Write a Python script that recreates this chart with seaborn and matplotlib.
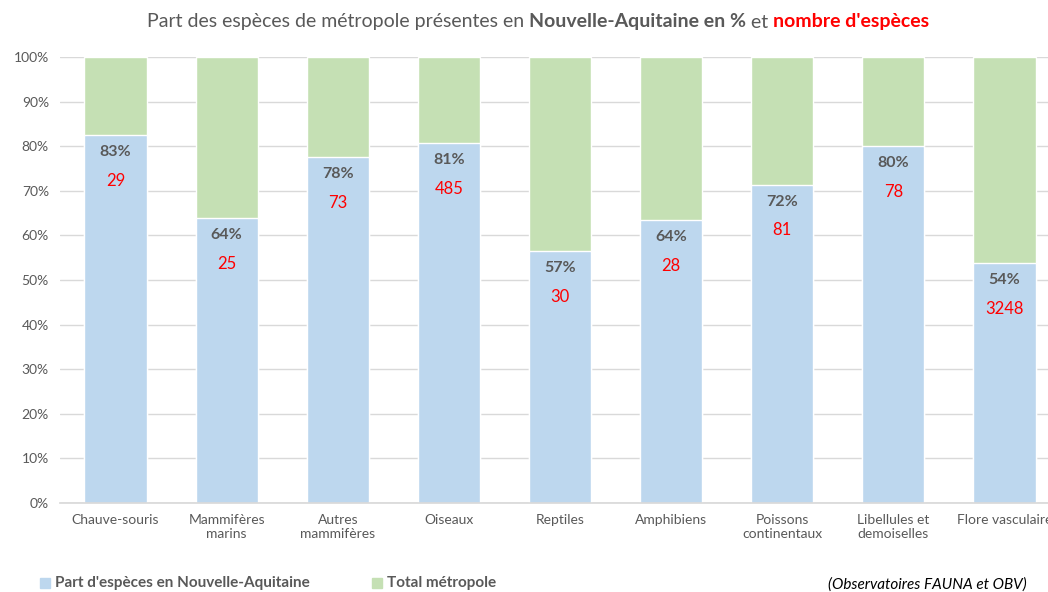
import pandas as pd
import matplotlib.pyplot as plt
import seaborn as sns

# Part des especes de metropole presentes en Nouvelle-Aquitaine
categories = ["Chauve-souris", "Mammifères\nmarins", "Autres\nmammifères", "Oiseaux",
              "Reptiles", "Amphibiens", "Poissons\ncontinentaux", "Libellules et\ndemoiselles",
              "Flore vasculaire"]
part_na = [82.5, 63.9, 77.6, 80.7, 56.4, 63.5, 71.4, 80.0, 53.8]
pct_labels = ["83%", "64%", "78%", "81%", "57%", "64%", "72%", "80%", "54%"]
nb_especes = ["29", "25", "73", "485", "30", "28", "81", "78", "3248"]
total = [100] * len(categories)

df = pd.DataFrame({"cat": categories, "na": part_na, "total": total})

sns.set_theme(style="white")
plt.rcParams['font.family'] = ['Lato', 'DejaVu Sans']

fig = plt.figure(figsize=(10.48, 5.92), dpi=100)
ax = fig.add_axes([60 / 1048, 89 / 592, 1000 / 1048, 446 / 592])

sns.barplot(data=df, x="cat", y="total", color="#c5e0b4", saturation=1, width=0.56, ax=ax)
sns.barplot(data=df, x="cat", y="na", color="#bdd7ee", saturation=1, width=0.56, ax=ax)

for i, v in enumerate(part_na):
    ax.text(i, v - 3.8, pct_labels[i], ha="center", va="center", fontsize=11.5,
            fontweight="bold", color="#595959")
    ax.text(i, v - 10.3, nb_especes[i], ha="center", va="center", fontsize=12, color="#ff0000")

ax.set_xlim(-0.5, 8.5)
ax.set_ylim(0, 100)
ax.set_yticks(range(0, 101, 10))
ax.set_yticklabels([f"{t}%" for t in range(0, 101, 10)], fontsize=10, color="#595959")
ax.tick_params(axis="x", labelsize=10, labelcolor="#595959", length=0, pad=8)
ax.tick_params(axis="y", length=0, pad=8)
ax.set_xlabel("")
ax.set_ylabel("")
ax.yaxis.grid(True, color="#d9d9d9", linewidth=1)
ax.set_axisbelow(True)
for s in ["top", "right", "left"]:
    ax.spines[s].set_visible(False)
ax.spines["bottom"].set_color("#d9d9d9")

# titre en plusieurs morceaux (couleurs / graisses differentes)
parts = [("Part des espèces de métropole présentes en ", "normal", "#595959"),
         ("Nouvelle-Aquitaine en %", "bold", "#595959"),
         (" et ", "normal", "#595959"),
         ("nombre d'espèces", "bold", "#ff0000")]
fig.canvas.draw()
renderer = fig.canvas.get_renderer()
widths = []
txts = []
for s, w, c in parts:
    t = fig.text(0, 0, s, fontsize=14, fontweight=w, color=c)
    widths.append(t.get_window_extent(renderer).width)
    txts.append(t)
x0 = (538 - sum(widths) / 2)
for t, w in zip(txts, widths):
    t.set_position((x0 / 1048, 1 - 22 / 592))
    t.set_va("center")
    x0 += w

# legende
fig.patches.append(plt.Rectangle((40 / 1048, 1 - 588 / 592), 10 / 1048, 10 / 592,
                                 transform=fig.transFigure, color="#bdd7ee"))
fig.text(55 / 1048, 1 - 583 / 592, "Part d'espèces en Nouvelle-Aquitaine", fontsize=11,
         fontweight="bold", color="#595959", va="center")
fig.patches.append(plt.Rectangle((372 / 1048, 1 - 588 / 592), 10 / 1048, 10 / 592,
                                 transform=fig.transFigure, color="#c5e0b4"))
fig.text(387 / 1048, 1 - 583 / 592, "Total métropole", fontsize=11,
         fontweight="bold", color="#595959", va="center")
fig.text(828 / 1048, 1 - 585 / 592, "(Observatoires FAUNA et OBV)", fontsize=11,
         style="italic", color="#000000", va="center")

fig.savefig("out.png", dpi=100)
